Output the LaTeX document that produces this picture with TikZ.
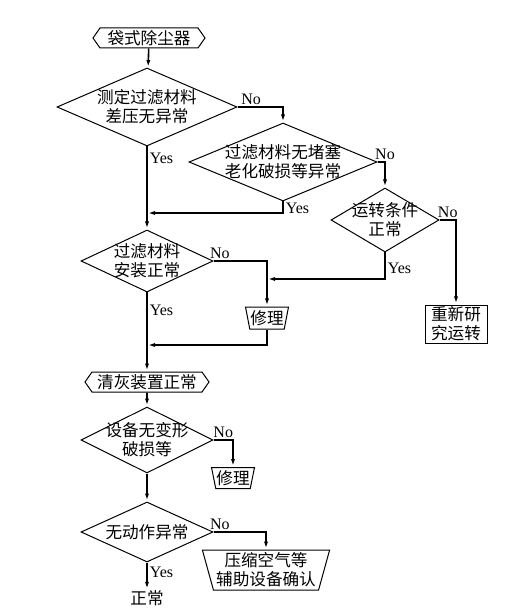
\documentclass[tikz,border=0pt]{standalone}
\usepackage{fontspec}
\setmainfont{Liberation Serif}
\newfontfamily\cjk{Noto Sans CJK SC}
\usetikzlibrary{shapes.geometric,shapes.symbols,arrows.meta}
\begin{document}
\begin{tikzpicture}[x=0.5pt,y=-0.5pt, line width=0.5pt,
  cn/.style={font=\cjk\fontsize{8.3}{9.4}\selectfont, align=center, inner sep=0pt},
  yn/.style={font=\fontsize{8}{9}\selectfont, inner sep=1pt},
  decision/.style={draw, diamond, inner sep=0pt},
  hexa/.style={draw, signal, signal to=west and east, signal pointer angle=110,
    minimum height=10pt, inner sep=1pt, cn},
  repair/.style={draw, trapezium, shape border rotate=180, trapezium stretches,
    trapezium left angle=75, trapezium right angle=75, cn},
  link/.style={line width=0.8pt, -{Latex[length=4pt,width=2pt]}}]
  \useasboundingbox (0,0) rectangle (530,608);
  \node[hexa, minimum width=56pt] (start) at (149,38) {袋式除尘器};
  \node[decision, minimum width=90pt, minimum height=39pt,
    label={[cn]center:测定过滤材料\\差压无异常}] (test) at (147,107) {};
  \node[decision, minimum width=94pt, minimum height=39pt,
    label={[cn]center:过滤材料无堵塞\\老化破损等异常}] (clog) at (283,162) {};
  \node[decision, minimum width=54pt, minimum height=32pt,
    label={[cn]center:运转条件\\正常}] (run) at (385,220) {};
  \node[draw, cn, minimum width=31pt, minimum height=19pt] (rerun) at (456,324)
    {重新研\\究运转};
  \node[decision, minimum width=66pt, minimum height=31pt,
    label={[cn]center:过滤材料\\安装正常}] (mount) at (147,261) {};
  \node[repair, minimum width=21.5pt, minimum height=11pt] (fix1) at (267,318) {修理};
  \node[hexa, minimum width=62pt] (clean) at (147,382) {清灰装置正常};
  \node[decision, minimum width=66pt, minimum height=33pt,
    label={[cn]center:设备无变形\\破损等}] (dent) at (147,440) {};
  \node[repair, minimum width=21.5pt, minimum height=10.5pt] (fix2) at (233,478) {修理};
  \node[decision, minimum width=66pt, minimum height=30pt,
    label={[cn]center:无动作异常}] (act) at (147,532) {};
  \node[repair, minimum width=64pt, minimum height=20pt, trapezium left angle=73,
    trapezium right angle=73] (aux) at (266,570) {压缩空气等\\辅助设备确认};
  \node[cn] (ok) at (147,598) {正常};
  \coordinate (j1) at (147,213);
  \coordinate (j2) at (267,279);
  \coordinate (j3) at (147,345);
  \draw[link] (start) -- (test);
  \draw[link] (test.east) -| node[yn, above, pos=0.15] {No} (clog.north);
  \draw[link] (test.south) -- node[yn, right, pos=0.14] {Yes} (mount.north);
  \draw[link] (clog.south) |- node[yn, right, pos=0.3] {Yes} (j1);
  \draw[link] (clog.east) -| node[yn, above, pos=0.5] {No} (run.north);
  \draw[link] (run.east) -| node[yn, above, pos=0.25] {No} (rerun.north);
  \draw[link] (run.south) |- node[yn, right, pos=0.3] {Yes} (j2);
  \draw[link] (mount.east) -| node[yn, above, pos=0.06] {No} (fix1.north);
  \draw[link] (fix1.south) |- (j3);
  \draw[link] (mount.south) -- node[yn, right, pos=0.22] {Yes} (clean.north);
  \draw[link] (clean) -- (dent);
  \draw[link] (dent.east) -| node[yn, above, pos=0.25] {No} (fix2.north);
  \draw[link] (dent) -- (act);
  \draw[link] (act.east) -| node[yn, above, pos=0.06] {No} (aux.north);
  \draw[link] (act) -- node[yn, right, pos=0.35] {Yes} (ok);
\end{tikzpicture}
\end{document}
